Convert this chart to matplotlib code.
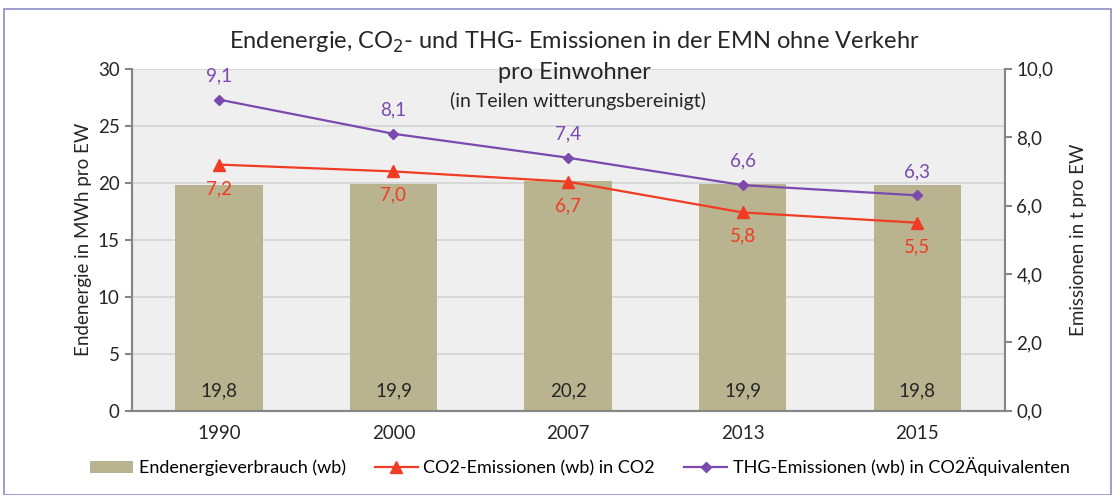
import matplotlib.pyplot as plt
import numpy as np
from matplotlib.patches import Rectangle

plt.rcParams['font.family'] = ['Lato', 'DejaVu Sans']

years = ['1990', '2000', '2007', '2013', '2015']
energie = [19.8, 19.9, 20.2, 19.9, 19.8]
co2 = [7.2, 7.0, 6.7, 5.8, 5.5]
thg = [9.1, 8.1, 7.4, 6.6, 6.3]

bar_col = '#B9B48F'
red = '#F03C24'
purple = '#7A4AAE'
txt = '#262626'

fig = plt.figure(figsize=(11.15, 4.95), dpi=100)
fig.patches.append(Rectangle((0.004, 0.0), 0.992, 0.982, transform=fig.transFigure,
                             fill=False, edgecolor='#8C8CC8', linewidth=1.2))
ax = fig.add_axes([0.118, 0.170, 0.783, 0.691])
ax.set_facecolor('#EEEFEE')
x = np.arange(len(years))

bars = ax.bar(x, energie, width=0.5, color=bar_col, zorder=2)
for xi, v in zip(x, energie):
    ax.text(xi, 1.0, f'{v:.1f}'.replace('.', ','), ha='center', va='bottom',
            fontsize=13.5, color=txt, zorder=3)

ax.set_ylim(0, 30)
ax.set_yticks(range(0, 31, 5))
ax.set_xlim(-0.5, len(years) - 0.5)
ax.set_xticks(x)
ax.set_xticklabels(years)
ax.grid(axis='y', color='#D4D4D4', linewidth=1.2, zorder=0)
ax.set_axisbelow(True)
ax.set_ylabel('Endenergie in MWh pro EW', fontsize=13.5, color=txt)

ax2 = ax.twinx()
ax2.set_ylim(0, 10)
ax2.set_yticks(np.arange(0, 10.1, 2))
ax2.set_yticklabels([f'{v:.1f}'.replace('.', ',') for v in np.arange(0, 10.1, 2)])
ax2.set_ylabel('Emissionen in t pro EW', fontsize=13.5, color=txt, labelpad=12)

l1, = ax2.plot(x, co2, color=red, linewidth=1.6, marker='^', markersize=9)
l2, = ax2.plot(x, thg, color=purple, linewidth=1.6, marker='D', markersize=5)
for xi, v in zip(x, co2):
    ax2.text(xi, v - 0.45, f'{v:.1f}'.replace('.', ','), ha='center', va='top',
             fontsize=13.5, color=red)
for xi, v in zip(x, thg):
    ax2.text(xi, v + 0.45, f'{v:.1f}'.replace('.', ','), ha='center', va='bottom',
             fontsize=13.5, color=purple)

for a in (ax, ax2):
    a.spines['top'].set_visible(False)
    for s in ('left', 'right', 'bottom'):
        a.spines[s].set_color('#868686')
        a.spines[s].set_linewidth(1.5)
    a.tick_params(axis='y', colors='#868686', labelcolor=txt, labelsize=13.5, length=5, width=1.5)
    a.tick_params(axis='x', length=0, labelsize=13.5, labelcolor=txt, pad=10)

fig.text(0.515, 0.915, 'Endenergie, CO$_2$- und THG- Emissionen in der EMN ohne Verkehr',
         ha='center', va='center', fontsize=17, color=txt)
fig.text(0.515, 0.853, 'pro Einwohner', ha='center', va='center', fontsize=17, color=txt)
fig.text(0.518, 0.797, '(in Teilen witterungsbereinigt)', ha='center', va='center',
         fontsize=14, color=txt)

labels = ['Endenergieverbrauch (wb)', 'CO2-Emissionen (wb) in CO2',
          'THG-Emissionen (wb) in CO2Äquivalenten']
fig.legend([bars[0], l1, l2], labels, loc='center',
           bbox_to_anchor=(0.52, 0.057), ncol=3, frameon=False, fontsize=13,
           handlelength=2.4, columnspacing=1.6, handletextpad=0.3)

fig.savefig('out.png', dpi=100)
